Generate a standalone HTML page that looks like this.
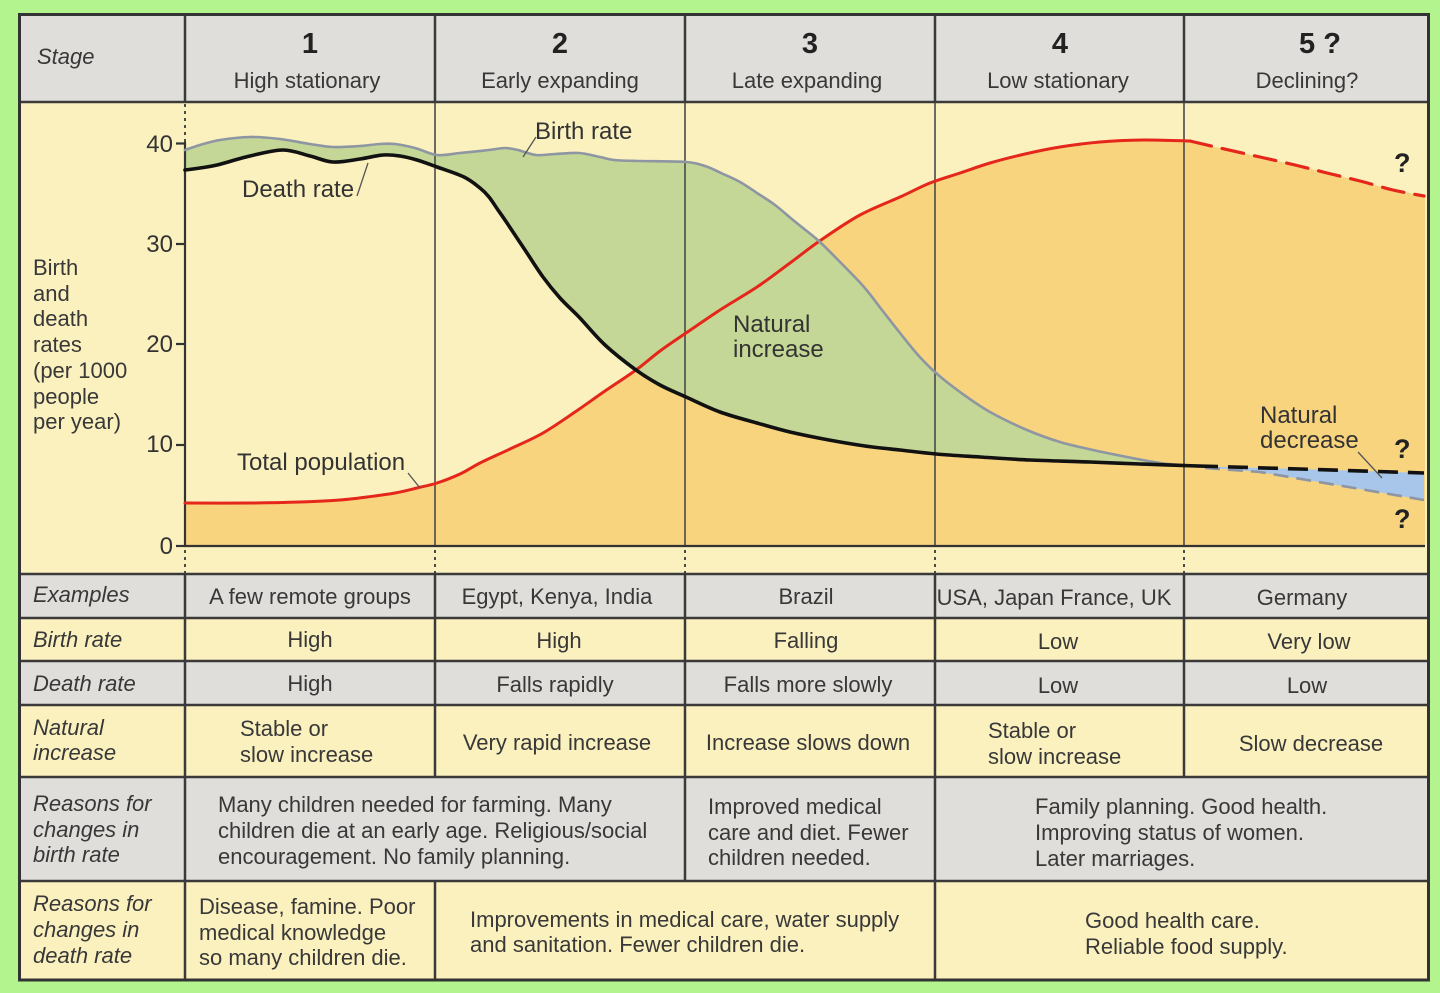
<!DOCTYPE html>
<html><head><meta charset="utf-8"><style>
html,body{margin:0;padding:0;background:#b4f48f;}
svg{display:block;}
text{font-family:"Liberation Sans",sans-serif;fill:#383838;}
.t{font-size:22px;}
.i{font-size:22px;font-style:italic;}
.c{text-anchor:middle;}
.h{font-size:22px;text-anchor:middle;}
.n{font-size:29px;font-weight:bold;text-anchor:middle;fill:#222;}
.lab{font-size:24px;fill:#333;}
.ax{font-size:24px;text-anchor:end;fill:#333;}
.q{font-size:27px;font-weight:bold;fill:#222;}
</style></head><body>
<svg id="chart" width="1440" height="993" viewBox="0 0 1440 993" xmlns="http://www.w3.org/2000/svg">
<rect x="0" y="0" width="1440" height="993" fill="#b4f48f"/>
<!-- row backgrounds -->
<rect x="19.5" y="14.5" width="1409" height="87.5" fill="#e0dedb"/>
<rect x="19.5" y="102" width="1409" height="472" fill="#fbf1bf"/>
<rect x="19.5" y="574" width="1409" height="44" fill="#e0dedb"/>
<rect x="19.5" y="618" width="1409" height="43" fill="#fbf1bf"/>
<rect x="19.5" y="661" width="1409" height="44" fill="#e0dedb"/>
<rect x="19.5" y="705" width="1409" height="72" fill="#fbf1bf"/>
<rect x="19.5" y="777" width="1409" height="104" fill="#e0dedb"/>
<rect x="19.5" y="881" width="1409" height="99" fill="#fbf1bf"/>

<!-- orange population fill -->
<polygon fill="#f8d47e" points="185,546 185,503 250,503 300,502 340,500 367,497 395,493 417,488 437,483 460,474 480,463 510,449 543,433 575,412 605,391 636,370 660,351 686,333 720,310 757,287 790,263 821,240 860,215 900,197 930,183 960,173 990,163 1025,154 1060,147 1100,142 1143,140 1183,141 1220,148 1260,157 1295,165 1327,173 1360,181 1393,190 1425,196 1425,546"/>

<!-- green natural increase fill -->
<polygon fill="#c5d796" points="185,150 200,145 220,140 250,137 280,139 310,144 333,147 360,146 380,144 395,144 415,148 437,155 460,153 489,150 505,148 518,150 536,155 555,154 579,153 600,157 614,160 640,161 686,162 705,166 721,173 740,182 757,193 775,205 793,220 808,232 821,243 843,265 864,287 882,310 900,333 918,355 936,373 960,392 990,412 1027,430 1060,442 1093,450 1127,457 1160,463 1190,466 1140,464 1090,462 1030,460 980,457 936,454 900,450 865,446 829,440 790,432 757,423 720,412 686,397 660,385 636,370 605,345 579,317 560,298 543,277 525,250 507,223 498,210 489,197 480,188 464,177 437,167 417,160 400,156 383,155 360,159 333,162 310,156 283,150 250,156 217,165 200,168 185,170"/>

<!-- blue natural decrease fill -->
<polygon fill="#a7c6ea" points="1190,466 1300,469 1424,473 1424,500 1360,489 1260,472"/>

<!-- chart column lines -->
<g stroke="#4a4a4a" stroke-width="1.6" fill="none">
<line x1="435" y1="102" x2="435" y2="546"/>
<line x1="685" y1="102" x2="685" y2="546"/>
<line x1="935" y1="102" x2="935" y2="546"/>
<line x1="1184" y1="102" x2="1184" y2="546"/>
</g>
<g stroke="#4a4a4a" stroke-width="2" stroke-dasharray="3,4" fill="none">
<line x1="185" y1="104" x2="185" y2="142"/>
<line x1="185" y1="550" x2="185" y2="574"/>
<line x1="435" y1="550" x2="435" y2="574"/>
<line x1="685" y1="550" x2="685" y2="574"/>
<line x1="935" y1="550" x2="935" y2="574"/>
<line x1="1184" y1="550" x2="1184" y2="574"/>
</g>
<!-- axis -->
<g stroke="#333" stroke-width="2.2" fill="none">
<line x1="185" y1="142" x2="185" y2="546"/>
<line x1="184" y1="546" x2="1425" y2="546"/>
<line x1="176" y1="143.5" x2="185" y2="143.5"/>
<line x1="176" y1="244" x2="185" y2="244"/>
<line x1="176" y1="344" x2="185" y2="344"/>
<line x1="176" y1="445" x2="185" y2="445"/>
<line x1="176" y1="546" x2="185" y2="546"/>
</g>

<!-- red total population -->
<polyline class="sm" fill="none" stroke="#e5261b" stroke-width="3" stroke-linejoin="round" points="185,503 250,503 300,502 340,500 367,497 395,493 417,488 437,483 460,474 480,463 510,449 543,433 575,412 605,391 636,370 660,351 686,333 720,310 757,287 790,263 821,240 860,215 900,197 930,183 960,173 990,163 1025,154 1060,147 1100,142 1143,140 1190,141"/>
<polyline class="sm" fill="none" stroke="#e5261b" stroke-width="3.2" stroke-dasharray="22,11" points="1190,141 1220,148 1260,157 1295,165 1327,173 1360,181 1393,190 1424,196"/>

<!-- birth rate line -->
<polyline class="sm" fill="none" stroke="#8d96a2" stroke-width="2.6" stroke-linejoin="round" points="185,150 200,145 220,140 250,137 280,139 310,144 333,147 360,146 380,144 395,144 415,148 437,155 460,153 489,150 505,148 518,150 536,155 555,154 579,153 600,157 614,160 640,161 686,162 705,166 721,173 740,182 757,193 775,205 793,220 808,232 821,243 843,265 864,287 882,310 900,333 918,355 936,373 960,392 990,412 1027,430 1060,442 1093,450 1127,457 1160,463 1190,466"/>
<polyline fill="none" stroke="#8d96a2" stroke-width="2.6" stroke-dasharray="15,8" points="1205,468 1260,472 1360,489 1424,500"/>

<!-- death rate line -->
<polyline class="sm" fill="none" stroke="#111" stroke-width="3.6" stroke-linejoin="round" points="185,170 200,168 217,165 250,156 283,150 310,156 333,162 360,159 383,155 400,156 417,160 437,167 464,177 480,188 489,197 498,210 507,223 525,250 543,277 560,298 579,317 605,345 636,370 660,385 686,397 720,412 757,423 790,432 829,440 865,446 900,450 936,454 980,457 1030,460 1090,462 1140,464 1198,466"/>
<polyline fill="none" stroke="#111" stroke-width="3.6" stroke-dasharray="20,10" points="1198,466 1300,469 1424,473"/>

<!-- leader lines -->
<g stroke="#555" stroke-width="1.3">
<line x1="357" y1="196" x2="368" y2="163"/>
<line x1="536" y1="137" x2="523" y2="157"/>
<line x1="408" y1="473" x2="420" y2="488"/>
<line x1="1358" y1="452" x2="1382" y2="478"/>
</g>

<!-- chart labels -->
<text class="lab" x="242" y="197">Death rate</text>
<text class="lab" x="535" y="139">Birth rate</text>
<text class="lab" x="237" y="470">Total population</text>
<text class="lab" x="733" y="332">Natural</text>
<text class="lab" x="733" y="357">increase</text>
<text class="lab" x="1260" y="423">Natural</text>
<text class="lab" x="1260" y="448">decrease</text>
<text class="q" x="1394" y="172">?</text>
<text class="q" x="1394" y="458">?</text>
<text class="q" x="1394" y="528">?</text>

<text class="ax" x="173" y="152">40</text>
<text class="ax" x="173" y="252">30</text>
<text class="ax" x="173" y="352">20</text>
<text class="ax" x="173" y="452">10</text>
<text class="ax" x="173" y="554">0</text>
<text class="t" x="33" y="275">Birth</text>
<text class="t" x="33" y="301">and</text>
<text class="t" x="33" y="326">death</text>
<text class="t" x="33" y="352">rates</text>
<text class="t" x="33" y="378">(per 1000</text>
<text class="t" x="33" y="404">people</text>
<text class="t" x="33" y="429">per year)</text>

<!-- table lines -->
<g stroke="#3a3a3a" stroke-width="2.5" fill="none">
<line x1="19.5" y1="102" x2="1429" y2="102"/>
<line x1="19.5" y1="574" x2="1429" y2="574"/>
<line x1="19.5" y1="618" x2="1429" y2="618"/>
<line x1="19.5" y1="661" x2="1429" y2="661"/>
<line x1="19.5" y1="705" x2="1429" y2="705"/>
<line x1="19.5" y1="777" x2="1429" y2="777"/>
<line x1="19.5" y1="881" x2="1429" y2="881"/>
<line x1="185" y1="14.5" x2="185" y2="102"/>
<line x1="435" y1="14.5" x2="435" y2="102"/>
<line x1="685" y1="14.5" x2="685" y2="102"/>
<line x1="935" y1="14.5" x2="935" y2="102"/>
<line x1="1184" y1="14.5" x2="1184" y2="102"/>
<line x1="185" y1="574" x2="185" y2="980"/>
<line x1="435" y1="574" x2="435" y2="777"/>
<line x1="685" y1="574" x2="685" y2="881"/>
<line x1="935" y1="574" x2="935" y2="980"/>
<line x1="1184" y1="574" x2="1184" y2="777"/>
<line x1="435" y1="881" x2="435" y2="980"/>
</g>
<rect x="19.5" y="14.5" width="1409" height="965.5" fill="none" stroke="#333" stroke-width="3"/>

<!-- header text -->
<text class="i" x="37" y="64">Stage</text>
<text class="n" x="310" y="53">1</text>
<text class="n" x="560" y="53">2</text>
<text class="n" x="810" y="53">3</text>
<text class="n" x="1060" y="53">4</text>
<text class="n" x="1320" y="53">5 ?</text>
<text class="h" x="307" y="88">High stationary</text>
<text class="h" x="560" y="88">Early expanding</text>
<text class="h" x="807" y="88">Late expanding</text>
<text class="h" x="1058" y="88">Low stationary</text>
<text class="h" x="1307" y="88">Declining?</text>

<!-- row labels -->
<text class="i" x="33" y="602">Examples</text>
<text class="i" x="33" y="647">Birth rate</text>
<text class="i" x="33" y="691">Death rate</text>
<text class="i" x="33" y="735">Natural</text>
<text class="i" x="33" y="760">increase</text>
<text class="i" x="33" y="811">Reasons for</text>
<text class="i" x="33" y="837">changes in</text>
<text class="i" x="33" y="862">birth rate</text>
<text class="i" x="33" y="911">Reasons for</text>
<text class="i" x="33" y="937">changes in</text>
<text class="i" x="33" y="963">death rate</text>

<!-- examples row -->
<text class="h" x="310" y="604">A few remote groups</text>
<text class="h" x="557" y="604">Egypt, Kenya, India</text>
<text class="h" x="806" y="604">Brazil</text>
<text class="h" x="1054" y="605">USA, Japan France, UK</text>
<text class="h" x="1302" y="605">Germany</text>
<!-- birth rate row -->
<text class="h" x="310" y="647">High</text>
<text class="h" x="559" y="648">High</text>
<text class="h" x="806" y="648">Falling</text>
<text class="h" x="1058" y="649">Low</text>
<text class="h" x="1309" y="649">Very low</text>
<!-- death rate row -->
<text class="h" x="310" y="691">High</text>
<text class="h" x="555" y="692">Falls rapidly</text>
<text class="h" x="808" y="692">Falls more slowly</text>
<text class="h" x="1058" y="693">Low</text>
<text class="h" x="1307" y="693">Low</text>
<!-- natural increase row -->
<text class="t" x="240" y="736">Stable or</text>
<text class="t" x="240" y="762">slow increase</text>
<text class="h" x="557" y="750">Very rapid increase</text>
<text class="h" x="808" y="750">Increase slows down</text>
<text class="t" x="988" y="738">Stable or</text>
<text class="t" x="988" y="764">slow increase</text>
<text class="h" x="1311" y="751">Slow decrease</text>
<!-- reasons birth -->
<text class="t" x="218" y="812">Many children needed for farming. Many</text>
<text class="t" x="218" y="838">children die at an early age. Religious/social</text>
<text class="t" x="218" y="864">encouragement. No family planning.</text>
<text class="t" x="708" y="814">Improved medical</text>
<text class="t" x="708" y="840">care and diet. Fewer</text>
<text class="t" x="708" y="865">children needed.</text>
<text class="t" x="1035" y="814">Family planning. Good health.</text>
<text class="t" x="1035" y="840">Improving status of women.</text>
<text class="t" x="1035" y="866">Later marriages.</text>
<!-- reasons death -->
<text class="t" x="199" y="914">Disease, famine. Poor</text>
<text class="t" x="199" y="940">medical knowledge</text>
<text class="t" x="199" y="965">so many children die.</text>
<text class="t" x="470" y="927">Improvements in medical care, water supply</text>
<text class="t" x="470" y="952">and sanitation. Fewer children die.</text>
<text class="t" x="1085" y="928">Good health care.</text>
<text class="t" x="1085" y="954">Reliable food supply.</text>
</svg>
<script>
(function(){
  var NS="http://www.w3.org/2000/svg";
  var els=document.querySelectorAll("polyline.sm");
  for(var k=0;k<els.length;k++){
    var pl=els[k];
    var raw=pl.getAttribute("points").trim().split(/\s+/);
    var p=[];
    for(var i=0;i<raw.length;i++){var c=raw[i].split(",");p.push([+c[0],+c[1]]);}
    var d="M"+p[0][0]+","+p[0][1];
    for(var i=0;i<p.length-1;i++){
      var p0=p[i>0?i-1:i],p1=p[i],p2=p[i+1],p3=p[i+2<p.length?i+2:i+1];
      var c1x=p1[0]+(p2[0]-p0[0])/6,c1y=p1[1]+(p2[1]-p0[1])/6;
      var c2x=p2[0]-(p3[0]-p1[0])/6,c2y=p2[1]-(p3[1]-p1[1])/6;
      d+=" C"+c1x.toFixed(1)+","+c1y.toFixed(1)+" "+c2x.toFixed(1)+","+c2y.toFixed(1)+" "+p2[0]+","+p2[1];
    }
    var path=document.createElementNS(NS,"path");
    path.setAttribute("d",d);
    var attrs=["fill","stroke","stroke-width","stroke-linejoin","stroke-dasharray"];
    for(var a=0;a<attrs.length;a++){var v=pl.getAttribute(attrs[a]);if(v!==null)path.setAttribute(attrs[a],v);}
    path.setAttribute("stroke-linecap","round");
    pl.parentNode.replaceChild(path,pl);
  }
})();
</script>
</body></html>
